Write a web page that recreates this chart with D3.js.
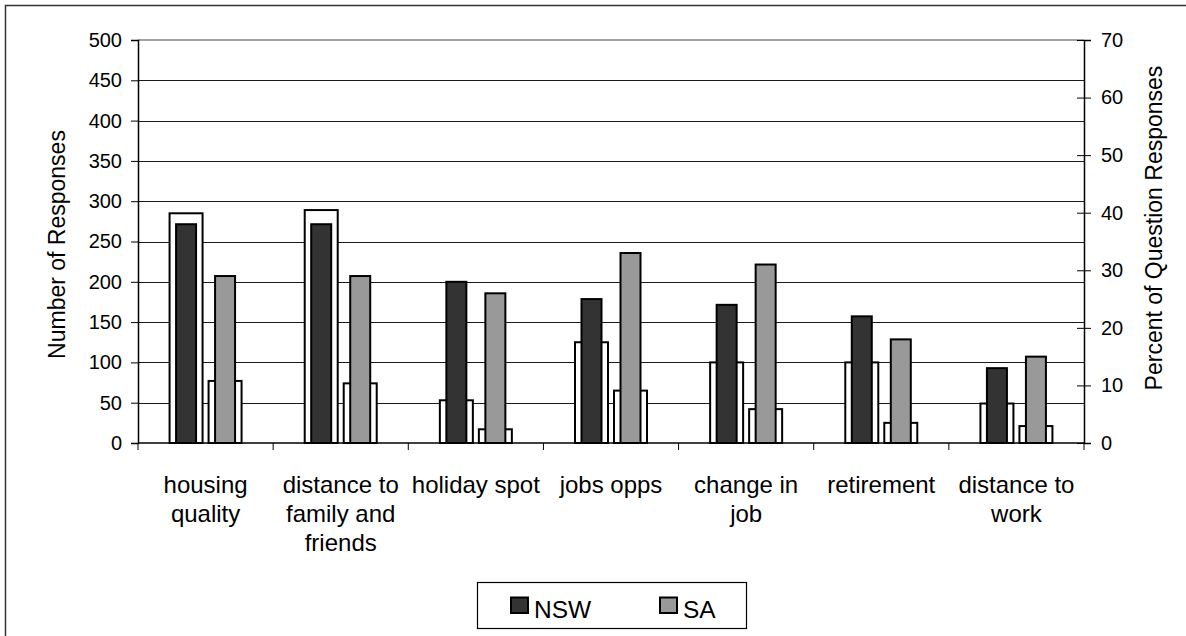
<!DOCTYPE html>
<html>
<head>
<meta charset="utf-8">
<script src="https://cdn.jsdelivr.net/npm/d3@7"></script>
<style>
  html, body { margin: 0; padding: 0; background: #fff; }
  svg { display: block; font-family: "Liberation Sans", Arial, sans-serif; }
</style>
</head>
<body>
<svg id="chart" width="1186" height="636"></svg>
<script>
const categories = ["housing quality", "distance to family and friends", "holiday spot", "jobs opps", "change in job", "retirement", "distance to work"];
const categoryLines = [["housing", "quality"], ["distance to", "family and", "friends"], ["holiday spot"], ["jobs opps"], ["change in", "job"], ["retirement"], ["distance to", "work"]];
const series = ["NSW", "SA"];
const countsNSW = [285, 289, 53, 125, 100, 100, 49];
const countsSA = [77, 74, 17, 65, 42, 25, 21];
const pctNSW = [38, 38, 28, 25, 24, 22, 13];
const pctSA = [29, 29, 26, 33, 31, 18, 15];
const leftTicks = [0, 50, 100, 150, 200, 250, 300, 350, 400, 450, 500];
const rightTicks = [0, 10, 20, 30, 40, 50, 60, 70];
const seriesColors = ["#333333", "#999999"];

(function () {
const svg = d3.select("#chart");
const pLeft = 138, pRight = 1084, pTop = 40, pBottom = 443;

// outer chart border (left & top visible)
svg.append("path").attr("d", `M5.5,640 L5.5,5.5 L1190,5.5`).attr("fill", "none").attr("stroke", "#333").attr("stroke-width", 1.5);

const x0 = d3.scaleBand().domain(categories).range([pLeft, pRight]).padding(0);
const groupW = 72;
const x1 = d3.scaleBand().domain(series).range([(x0.bandwidth() - groupW) / 2, (x0.bandwidth() + groupW) / 2]).paddingInner(0.154);
const yL = d3.scaleLinear().domain([0, 500]).range([pBottom, pTop]);
const yR = d3.scaleLinear().domain([0, 70]).range([pBottom, pTop]);

// gridlines
svg.append("g").selectAll("line").data(leftTicks.filter(t => t > 0 && t < 500)).join("line")
  .attr("x1", pLeft).attr("x2", pRight).attr("y1", d => Math.round(yL(d)) + 0.5).attr("y2", d => Math.round(yL(d)) + 0.5)
  .attr("stroke", "#1a1a1a").attr("stroke-width", 1);
svg.append("line").attr("x1", pLeft).attr("x2", pRight).attr("y1", yL(500)).attr("y2", yL(500))
  .attr("stroke", "#808080").attr("stroke-width", 1.5);

const counts = [countsNSW, countsSA];
const pcts = [pctNSW, pctSA];

// count bars (primary axis, white)
series.forEach((s, si) => {
  svg.append("g").selectAll("rect").data(categories).join("rect")
    .attr("x", c => x0(c) + x1(s))
    .attr("width", x1.bandwidth())
    .attr("y", (c, i) => yL(counts[si][i]))
    .attr("height", (c, i) => yL(0) - yL(counts[si][i]))
    .attr("fill", "#fff").attr("stroke", "#000").attr("stroke-width", 2);
});
// percent bars (secondary axis)
const innerW = 20;
series.forEach((s, si) => {
  svg.append("g").selectAll("rect").data(categories).join("rect")
    .attr("x", c => x0(c) + x1(s) + (x1.bandwidth() - innerW) / 2)
    .attr("width", innerW)
    .attr("y", (c, i) => yR(pcts[si][i]))
    .attr("height", (c, i) => yR(0) - yR(pcts[si][i]))
    .attr("fill", seriesColors[si]).attr("stroke", "#000").attr("stroke-width", 2);
});

// left axis
const gL = svg.append("g").attr("transform", `translate(${pLeft},0)`)
  .call(d3.axisLeft(yL).tickValues(leftTicks).tickSize(7).tickPadding(9));
gL.select(".domain").attr("stroke", "#000").attr("stroke-width", 1.5);
gL.selectAll(".tick line").attr("stroke", "#000");
gL.selectAll("text").attr("font-size", 20).attr("fill", "#000").attr("font-family", "Liberation Sans, Arial, sans-serif");

// right axis
const gR = svg.append("g").attr("transform", `translate(${pRight},0)`)
  .call(d3.axisRight(yR).tickValues(rightTicks).tickSize(7).tickPadding(10));
gR.select(".domain").attr("stroke", "#000").attr("stroke-width", 1.5);
gR.selectAll(".tick line").attr("x1", -7).attr("stroke", "#000");
gR.selectAll("text").attr("font-size", 20).attr("fill", "#000").attr("font-family", "Liberation Sans, Arial, sans-serif");

// bottom axis
svg.append("line").attr("x1", pLeft).attr("x2", pRight).attr("y1", pBottom).attr("y2", pBottom).attr("stroke", "#000").attr("stroke-width", 1.5);
const bounds = categories.map(c => x0(c)).concat([pRight]);
svg.append("g").selectAll("line").data(bounds).join("line")
  .attr("x1", d => d).attr("x2", d => d).attr("y1", pBottom).attr("y2", pBottom + 7)
  .attr("stroke", "#000").attr("stroke-width", 1);

// category labels
const catG = svg.append("g");
categories.forEach((c, i) => {
  const cx = x0(c) + x0.bandwidth() / 2;
  const t = catG.append("text").attr("text-anchor", "middle").attr("font-size", 24).attr("fill", "#000")
    .attr("x", cx).attr("y", 493);
  categoryLines[i].forEach((ln, j) => {
    t.append("tspan").attr("x", cx).attr("dy", j === 0 ? 0 : 29).text(ln);
  });
});

// axis titles
svg.append("text").attr("transform", `translate(65,${(pTop + pBottom) / 2 + 3}) rotate(-90)`)
  .attr("text-anchor", "middle").attr("font-size", 23).attr("fill", "#000").text("Number of Responses");
svg.append("text").attr("transform", `translate(1162,228) rotate(-90)`)
  .attr("text-anchor", "middle").attr("font-size", 23).attr("fill", "#000").text("Percent of Question Responses");

// legend
const lg = svg.append("g");
lg.append("rect").attr("x", 477.5).attr("y", 582.5).attr("width", 269).attr("height", 46)
  .attr("fill", "#fff").attr("stroke", "#000").attr("stroke-width", 1.2);
const legendX = [511, 660];
series.forEach((s, si) => {
  lg.append("rect").attr("x", legendX[si]).attr("y", 597.5).attr("width", 17).attr("height", 15.5)
    .attr("fill", seriesColors[si]).attr("stroke", "#000").attr("stroke-width", 2);
  lg.append("text").attr("x", legendX[si] + 23).attr("y", 618).attr("font-size", 24.5).attr("fill", "#000").text(s);
});
})();
</script>
</body>
</html>
